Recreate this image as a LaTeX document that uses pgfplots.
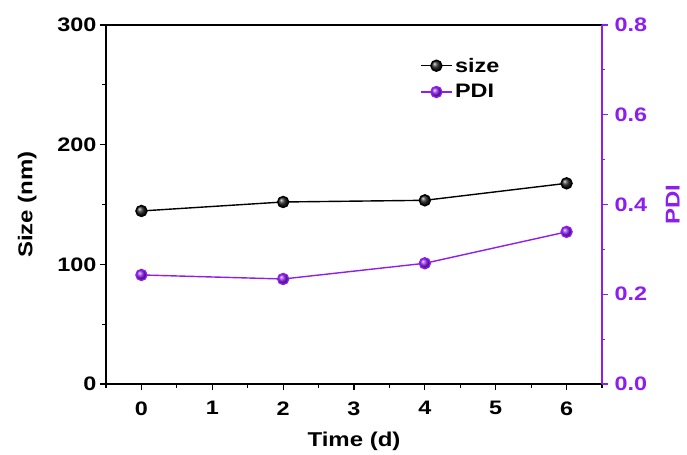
\documentclass[border=0pt]{standalone}
\usepackage{fontspec}
\setmainfont{Liberation Sans}[FakeStretch=1.2]
\usepackage{pgfplots}
\pgfplotsset{compat=1.18}
\usetikzlibrary{plotmarks}
\definecolor{pdicol}{RGB}{140,30,240}

\pgfplotsset{
  common/.style={
    scale only axis, width=496pt, height=359pt,
    xmin=-0.5, xmax=6.5,
    tick align=outside,
    major tick length=6pt, minor tick length=3.5pt,
    every tick/.style={line width=1.1pt},
    axis line style={line width=1.3pt},
    /pgf/number format/assume math mode=true,
    tick label style={font=\fontsize{19.5}{22}\selectfont\bfseries},
    label style={font=\fontsize{20}{23}\selectfont\bfseries},
  },
  % short line with the marker in its middle, as in the legend
  long line legend/.style={
    legend image code/.code={
      \draw[mark repeat=2, mark phase=2, ##1]
        plot coordinates {(0pt,0pt) (15pt,0pt) (31pt,0pt)};
    }
  }
}

\begin{document}
\begin{tikzpicture}
\begin{axis}[common,
  ymin=0, ymax=300, ytick={0,100,200,300}, minor ytick={50,150,250},
  xtick={0,1,...,6}, minor xtick={-0.5,0.5,...,6.5},
  xtick pos=bottom, ytick pos=left,
  xticklabel style={yshift=-8pt},
  xlabel={Time (d)}, ylabel={Size (nm)},
  xlabel style={yshift=-10pt}, ylabel style={yshift=14pt},
  long line legend,
  legend style={draw=none, fill=none, at={(0.628,0.92)}, anchor=north west,
    font=\fontsize{19.5}{22}\selectfont\bfseries, row sep=7pt,
    /tikz/every even column/.append style={column sep=2pt}},
  legend cell align=left,
]
\addplot[black, line width=1.4pt, mark=ball, mark size=5.5pt,
  mark options={ball color=black!85}]
  coordinates {(0,144.6) (2,152.1) (4,153.5) (6,167.7)};
\addlegendentry{size}
\addlegendimage{pdicol, line width=1.4pt, mark=ball, mark size=5.5pt,
  mark options={ball color=pdicol}}
\addlegendentry{PDI}
\end{axis}
\begin{axis}[common,
  axis x line=none, axis y line*=right,
  ymin=0, ymax=0.8, ytick={0,0.2,...,0.8}, minor ytick={0.1,0.3,0.5,0.7},
  /pgf/number format/fixed, /pgf/number format/fixed zerofill,
  /pgf/number format/precision=1,
  y axis line style={pdicol, line width=1.3pt}, ytick style={pdicol},
  yticklabel style={pdicol, xshift=3pt}, ylabel style={pdicol, yshift=-12pt},
  ylabel={PDI},
]
\addplot[pdicol, line width=1.4pt, mark=ball, mark size=5.5pt,
  mark options={ball color=pdicol}]
  coordinates {(0,0.243) (2,0.234) (4,0.269) (6,0.339)};
\end{axis}
\path (current axis.south west) ++(-106pt,-68pt) rectangle ++(687pt,452pt);
\end{tikzpicture}
\end{document}
